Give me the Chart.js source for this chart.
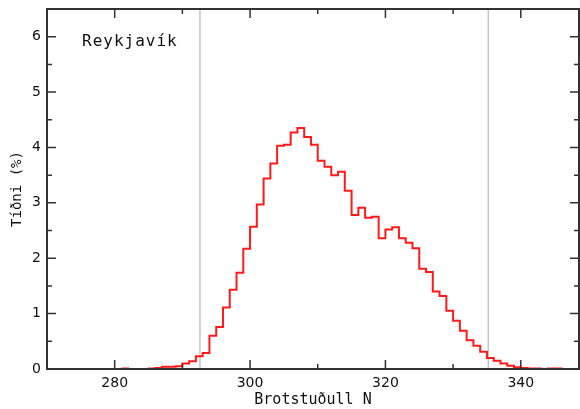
<!DOCTYPE html>
<html>
<head>
<meta charset="utf-8">
<script src="https://cdn.jsdelivr.net/npm/chart.js@4.4.0/dist/chart.umd.min.js"></script>
<style>
  html, body { margin: 0; padding: 0; background: #fff; }
  #wrap { width: 580px; height: 409px; }
</style>
</head>
<body>
<div id="wrap"><canvas id="hist"></canvas></div>
<script>
// left edge of each 1-unit bin, last entry closes the histogram
var bins = [281, 282, 283, 284, 285, 286, 287, 288, 289, 290,
            291, 292, 293, 294, 295, 296, 297, 298, 299, 300,
            301, 302, 303, 304, 305, 306, 307, 308, 309, 310,
            311, 312, 313, 314, 315, 316, 317, 318, 319, 320,
            321, 322, 323, 324, 325, 326, 327, 328, 329, 330,
            331, 332, 333, 334, 335, 336, 337, 338, 339, 340,
            341, 342, 343, 344, 345, 346];
// frequency in %
var freq = [0.01, 0, 0, 0, 0.01, 0.02, 0.04, 0.04, 0.05, 0.10,
            0.14, 0.23, 0.29, 0.60, 0.76, 1.11, 1.43, 1.74, 2.17, 2.57,
            2.97, 3.44, 3.71, 4.03, 4.05, 4.27, 4.35, 4.19, 4.05, 3.76,
            3.65, 3.50, 3.56, 3.22, 2.78, 2.91, 2.73, 2.75, 2.36, 2.52,
            2.56, 2.36, 2.28, 2.18, 1.81, 1.75, 1.40, 1.32, 1.05, 0.87,
            0.69, 0.52, 0.42, 0.31, 0.20, 0.15, 0.10, 0.06, 0.03, 0.02,
            0.01, 0.01, 0, 0.01, 0.01, 0];
var xTicks = [280, 300, 320, 340];
var yTicks = [0, 1, 2, 3, 4, 5, 6];
var limits = [292.6, 335.2];
var station = "Reykjavík";

var points = bins.map(function (b, i) { return { x: b, y: freq[i] }; });

var framePlugin = {
  id: 'frame',
  beforeDatasetsDraw: function (chart) {
    var ctx = chart.ctx, a = chart.chartArea, xs = chart.scales.x;
    ctx.save();
    ctx.strokeStyle = '#c4c4c4';
    ctx.lineWidth = 1.5;
    limits.forEach(function (v) {
      var px = xs.getPixelForValue(v);
      ctx.beginPath();
      ctx.moveTo(px, a.top);
      ctx.lineTo(px, a.bottom);
      ctx.stroke();
    });
    ctx.restore();
  },
  afterDatasetsDraw: function (chart) {
    var ctx = chart.ctx, a = chart.chartArea;
    var xs = chart.scales.x, ys = chart.scales.y;
    ctx.save();
    ctx.strokeStyle = '#333';
    ctx.lineWidth = 2;
    ctx.strokeRect(a.left, a.top, a.right - a.left, a.bottom - a.top);

    ctx.lineWidth = 1.5;
    ctx.beginPath();
    for (var v = 280; v <= 340; v += 10) {
      var px = xs.getPixelForValue(v);
      var len = (v % 20 === 0) ? 9 : 5;
      ctx.moveTo(px, a.bottom); ctx.lineTo(px, a.bottom - len);
      ctx.moveTo(px, a.top); ctx.lineTo(px, a.top + len);
    }
    for (var k = 1; k <= 13; k++) {
      var py = ys.getPixelForValue(k * 0.5);
      var l2 = (k % 2 === 0) ? 9 : 5;
      ctx.moveTo(a.left, py); ctx.lineTo(a.left + l2, py);
      ctx.moveTo(a.right, py); ctx.lineTo(a.right - l2, py);
    }
    ctx.stroke();

    ctx.fillStyle = '#111';
    ctx.font = '16px "DejaVu Sans Mono"';
    ctx.letterSpacing = '1px';
    ctx.textBaseline = 'alphabetic';
    ctx.fillText(station, 82, 46);
    ctx.restore();
  }
};

new Chart(document.getElementById('hist'), {
  type: 'line',
  data: {
    datasets: [{
      data: points,
      stepped: 'before',
      borderColor: '#ff1a1a',
      borderWidth: 2,
      pointRadius: 0,
      fill: false
    }]
  },
  options: {
    responsive: true,
    maintainAspectRatio: false,
    animation: false,
    layout: { padding: { top: 9, right: 1, left: 0, bottom: 0 } },
    plugins: {
      legend: { display: false },
      tooltip: { enabled: false }
    },
    scales: {
      x: {
        type: 'linear',
        min: 270,
        max: 348.6,
        grid: { display: false, drawTicks: false },
        border: { display: false },
        afterBuildTicks: function (s) { s.ticks = xTicks.map(function (v) { return { value: v }; }); },
        afterFit: function (s) { s.height = 40; s.paddingLeft = 0; s.paddingRight = 0; },
        ticks: {
          padding: 6,
          color: '#111',
          font: { family: 'DejaVu Sans', size: 14 }
        },
        title: {
          display: true,
          text: 'Brotstuðull N',
          color: '#111',
          padding: { top: 0, bottom: 0 },
          font: { family: 'DejaVu Sans Mono', size: 15 }
        }
      },
      y: {
        min: 0,
        max: 6.5,
        grid: { display: false, drawTicks: false },
        border: { display: false },
        afterBuildTicks: function (s) { s.ticks = yTicks.map(function (v) { return { value: v }; }); },
        afterFit: function (s) { s.width = 47; s.paddingTop = 0; s.paddingBottom = 0; },
        ticks: {
          padding: 6,
          color: '#111',
          font: { family: 'DejaVu Sans', size: 14 }
        },
        title: {
          display: true,
          text: 'Tíðni (%)',
          color: '#111',
          padding: { top: 9, bottom: 0 },
          font: { family: 'DejaVu Sans Mono', size: 14 }
        }
      }
    }
  },
  plugins: [framePlugin]
});
</script>
</body>
</html>
